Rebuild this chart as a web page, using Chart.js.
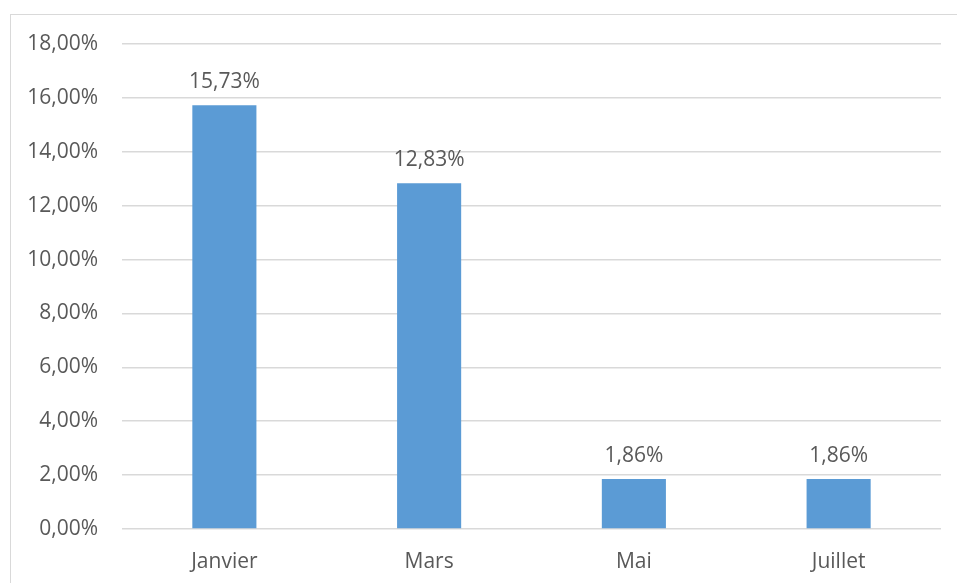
<!DOCTYPE html>
<html>
<head>
<meta charset="utf-8">
<script src="https://cdn.jsdelivr.net/npm/chart.js@4/dist/chart.umd.min.js"></script>
<style>
  body { margin: 0; background: #fff; }
  #wrap { position: relative; width: 957px; height: 583px; overflow: hidden; }
  #frame {
    position: absolute; left: 10px; top: 14px; width: 1000px; height: 600px;
    border-top: 1.5px solid #d9d9d9; border-left: 1.5px solid #d9d9d9;
  }
  canvas { position: absolute; left: 0; top: 0; }
</style>
</head>
<body>
<div id="wrap">
  <div id="frame"></div>
  <canvas id="chart" width="957" height="583"></canvas>
</div>
<script>
const months = ["Janvier", "Mars", "Mai", "Juillet"];
const rates = [15.73, 12.83, 1.86, 1.86];
const yTicks = [0, 2, 4, 6, 8, 10, 12, 14, 16, 18];

const FONT = { family: "'Open Sans', sans-serif", size: 21 };
const TEXT = "#595959";

function pct(v) {
  return v.toFixed(2).replace(".", ",") + "%";
}

// value labels above each bar
const barLabels = {
  id: "barLabels",
  afterDatasetsDraw(c) {
    const ctx = c.ctx;
    const meta = c.getDatasetMeta(0);
    ctx.save();
    ctx.font = `${FONT.size}px ${FONT.family}`;
    ctx.fillStyle = TEXT;
    ctx.textAlign = "center";
    ctx.textBaseline = "alphabetic";
    meta.data.forEach((bar, i) => {
      ctx.fillText(pct(rates[i]), bar.x, bar.y - 17);
    });
    ctx.restore();
  }
};

new Chart(document.getElementById("chart"), {
  type: "bar",
  data: {
    labels: months,
    datasets: [{
      data: rates,
      backgroundColor: "#5b9bd5",
      barPercentage: 0.313,
      categoryPercentage: 1
    }]
  },
  options: {
    responsive: false,
    animation: false,
    layout: { padding: { top: 44, right: 16, left: 0, bottom: 0 } },
    plugins: { legend: { display: false }, tooltip: { enabled: false } },
    scales: {
      x: {
        grid: { display: false, drawTicks: false },
        border: { display: false },
        ticks: { color: TEXT, font: FONT, padding: 20, maxRotation: 0 },
        afterFit(s) { s.height = 54; }
      },
      y: {
        min: 0,
        max: 18,
        afterBuildTicks(s) { s.ticks = yTicks.map(v => ({ value: v })); },
        grid: { color: "#d9d9d9", lineWidth: 1.5, drawTicks: false },
        border: { display: false },
        ticks: { color: TEXT, font: FONT, padding: 24, callback: v => pct(v) },
        afterFit(s) { s.width = 122; }
      }
    }
  },
  plugins: [barLabels]
});
</script>
</body>
</html>
